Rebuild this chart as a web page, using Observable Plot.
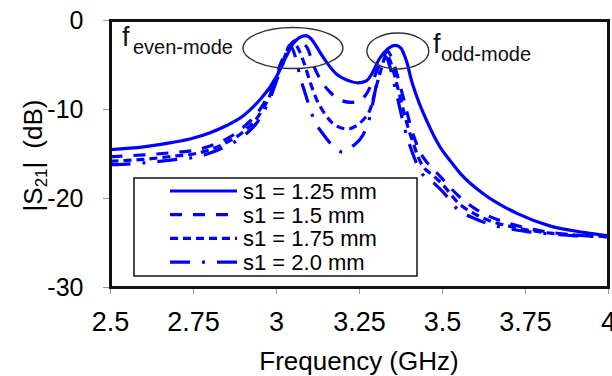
<!DOCTYPE html>
<html><head><meta charset="utf-8">
<script src="https://cdn.jsdelivr.net/npm/d3@7"></script>
<script src="https://cdn.jsdelivr.net/npm/@observablehq/plot@0.6"></script>
<style>
body{margin:0;background:#fff;}
#chart{width:612px;height:376px;}
</style></head><body><div id="chart"></div>
<script>
const seriesNames = ["s1 = 1.25 mm", "s1 = 1.5 mm", "s1 = 1.75 mm", "s1 = 2.0 mm"];
const seriesDash = [null, "12,11", "8,5", "20,12,3,12"];
const xTicks = [2.5, 2.75, 3, 3.25, 3.5, 3.75, 4];
const yTicks = [0, -10, -20, -30];

const f125 = [2.5, 2.6, 2.687, 2.75, 2.8, 2.85, 2.9, 2.95, 2.98, 3.0, 3.03, 3.05, 3.07, 3.088, 3.105, 3.12, 3.133, 3.155, 3.18, 3.213, 3.245, 3.27, 3.29, 3.31, 3.335, 3.358, 3.375, 3.383, 3.395, 3.404, 3.423, 3.454, 3.494, 3.524, 3.554, 3.624, 3.726, 3.825, 3.925, 4.0];
const s125 = [-14.5, -14.2, -13.7, -13.2, -12.6, -11.8, -10.7, -8.9, -7.5, -6.3, -4.0, -2.6, -1.9, -1.7, -2.1, -2.9, -3.7, -4.9, -6.0, -6.7, -7.0, -6.8, -5.8, -4.3, -3.2, -2.8, -3.1, -3.7, -5.0, -6.4, -8.6, -11.4, -14.3, -15.8, -17.2, -19.5, -21.7, -23.1, -23.8, -24.2];

const f150 = [2.5, 2.6, 2.7, 2.75, 2.8, 2.85, 2.9, 2.95, 2.98, 3.0, 3.02, 3.04, 3.06, 3.075, 3.093, 3.111, 3.135, 3.16, 3.19, 3.225, 3.25, 3.27, 3.29, 3.305, 3.32, 3.335, 3.35, 3.365, 3.38, 3.395, 3.41, 3.43, 3.45, 3.475, 3.5, 3.545, 3.6, 3.635, 3.7, 3.75, 3.825, 3.9, 4.0];
const s150 = [-15.3, -15.1, -14.8, -14.6, -14.1, -13.3, -12.0, -10.0, -8.0, -6.0, -4.2, -2.8, -2.2, -2.5, -3.1, -5.0, -6.8, -8.0, -8.9, -9.2, -9.0, -8.3, -6.8, -5.4, -4.2, -3.5, -4.5, -6.3, -8.4, -10.6, -12.6, -14.6, -15.8, -16.8, -17.8, -19.6, -21.2, -21.9, -22.8, -23.3, -23.8, -24.1, -24.3];

const f175 = [2.5, 2.6, 2.7, 2.75, 2.8, 2.85, 2.9, 2.95, 2.98, 3.0, 3.02, 3.035, 3.05, 3.07, 3.085, 3.102, 3.12, 3.144, 3.178, 3.215, 3.245, 3.26, 3.285, 3.3, 3.315, 3.332, 3.345, 3.36, 3.375, 3.39, 3.41, 3.435, 3.475, 3.5, 3.545, 3.6, 3.635, 3.7, 3.75, 3.825, 3.9, 4.0];
const s175 = [-15.8, -15.6, -15.2, -15.0, -14.5, -13.7, -12.5, -10.5, -8.4, -6.4, -4.5, -3.2, -2.5, -3.5, -5.0, -7.0, -8.8, -10.4, -11.8, -12.2, -11.7, -11.2, -9.7, -7.5, -5.5, -3.8, -4.8, -6.8, -9.0, -11.2, -13.6, -16.0, -17.5, -18.4, -20.4, -21.8, -22.4, -23.1, -23.5, -23.9, -24.1, -24.3];

const f200 = [2.5, 2.6, 2.7, 2.75, 2.8, 2.85, 2.9, 2.95, 2.98, 3.0, 3.02, 3.04, 3.06, 3.072, 3.085, 3.1, 3.115, 3.139, 3.165, 3.2, 3.23, 3.26, 3.28, 3.29, 3.3, 3.31, 3.32, 3.33, 3.34, 3.355, 3.37, 3.385, 3.405, 3.435, 3.475, 3.5, 3.545, 3.6, 3.635, 3.7, 3.75, 3.825, 3.9, 4.0];
const s200 = [-16.2, -16.0, -15.6, -15.4, -14.9, -14.1, -13.0, -11.0, -8.8, -6.8, -4.8, -2.8, -4.5, -6.5, -8.0, -9.8, -11.3, -12.7, -13.9, -14.8, -14.1, -12.9, -11.0, -9.3, -7.4, -6.0, -4.8, -4.1, -5.0, -7.2, -9.6, -12.0, -14.4, -17.0, -18.3, -19.2, -21.2, -22.3, -22.8, -23.4, -23.7, -24.0, -24.2, -24.3];

// annotation anchors (data coordinates)
const evenEllipse = {f: 3.051, db: -3.15, rx: 50, ry: 20.5};
const oddEllipse = {f: 3.367, db: -3.48, rx: 31, ry: 18};
const evenLabel = {f: 2.536, db: -2.92, sf: 2.569, sdb: -3.82, main: "f", sub: "even-mode"};
const oddLabel = {f: 3.473, db: -3.71, sf: 3.497, sdb: -4.61, main: "f", sub: "odd-mode"};

const seriesF = [f125, f150, f175, f200];
const seriesV = [s125, s150, s175, s200];
const FONT = "'Liberation Sans', Arial, Helvetica, sans-serif";
const BLUE = "#0000ff";

const rows = seriesF.map((fs, i) => fs.map((f, j) => ({f, db: seriesV[i][j]})));

const chart = Plot.plot({
  width: 612, height: 376,
  marginLeft: 110, marginRight: 4, marginTop: 20, marginBottom: 89,
  style: {fontFamily: FONT, background: "white", color: "black", overflow: "visible"},
  x: {domain: [2.5, 4]},
  y: {domain: [-30, 0]},
  marks: [
    ...rows.map((r, i) => Plot.line(r, {
      x: "f", y: "db", stroke: BLUE, strokeWidth: 3.2,
      strokeDasharray: seriesDash[i] || undefined,
      curve: "monotone-x", strokeLinecap: "butt"
    })),
    Plot.axisX(xTicks, {tickSize: 7, tickPadding: 17, tickFormat: d => String(d), fontSize: 27, stroke: "#999", fill: "black", label: null}),
    Plot.axisY(yTicks, {tickSize: 7, tickPadding: 20, tickFormat: d => String(d), fontSize: 25, stroke: "#999", fill: "black", label: null}),
    Plot.frame({stroke: "#111", strokeWidth: 3})
  ]
});
document.getElementById("chart").append(chart);

const xs = chart.scale("x"), ys = chart.scale("y");
const svg = d3.select(chart);

// ellipses
for (const e of [evenEllipse, oddEllipse]) {
  svg.append("ellipse")
    .attr("cx", xs.apply(e.f)).attr("cy", ys.apply(e.db))
    .attr("rx", e.rx).attr("ry", e.ry)
    .attr("fill", "none").attr("stroke", "#333").attr("stroke-width", 1.4);
}
// f labels
for (const l of [evenLabel, oddLabel]) {
  svg.append("text").attr("x", xs.apply(l.f)).attr("y", ys.apply(l.db))
    .attr("text-anchor", "start")
    .attr("font-family", FONT).attr("font-size", 27).attr("fill", "#111").text(l.main);
  svg.append("text").attr("x", xs.apply(l.sf)).attr("y", ys.apply(l.sdb))
    .attr("text-anchor", "start")
    .attr("font-family", FONT).attr("font-size", 20).attr("fill", "#111").text(l.sub);
}

// x axis title
svg.append("text").attr("x", (xs.range[0] + xs.range[1]) / 2).attr("y", 370)
  .attr("text-anchor", "middle").attr("font-family", FONT).attr("font-size", 26)
  .attr("fill", "black").text("Frequency (GHz)");

// y axis title
const yt = svg.append("text").attr("transform", `translate(42,${(ys.range[0] + ys.range[1]) / 2 + 2}) rotate(-90)`)
  .attr("text-anchor", "middle").attr("font-family", FONT).attr("font-size", 26).attr("fill", "black");
yt.append("tspan").text("|S");
yt.append("tspan").attr("font-size", 17).attr("dy", 5).text("21");
yt.append("tspan").attr("dy", -5).text("|\u2002(dB)");

// legend
const lg = svg.append("g");
lg.append("rect").attr("x", 134).attr("y", 178).attr("width", 283).attr("height", 98)
  .attr("fill", "white").attr("stroke", "#111").attr("stroke-width", 1.5);
seriesNames.forEach((name, i) => {
  const cy = 191 + i * 23.7;
  lg.append("line").attr("x1", 170).attr("x2", 237).attr("y1", cy).attr("y2", cy)
    .attr("stroke", BLUE).attr("stroke-width", 3.2)
    .attr("stroke-dasharray", seriesDash[i] || null);
  lg.append("text").attr("x", 243).attr("y", cy).attr("dy", "0.36em")
    .attr("text-anchor", "start")
    .attr("font-family", FONT).attr("font-size", 22).attr("fill", "black").text(name);
});
</script>
</body></html>
